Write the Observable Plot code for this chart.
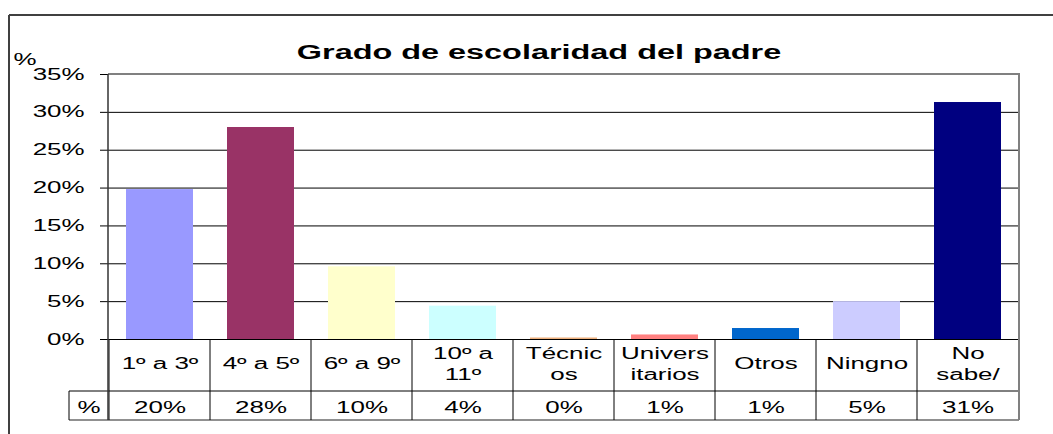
<!DOCTYPE html>
<html><head><meta charset="utf-8">
<script src="https://cdn.jsdelivr.net/npm/d3@7"></script>
<script src="https://cdn.jsdelivr.net/npm/@observablehq/plot@0.6"></script>
<style>
html,body{margin:0;padding:0;background:#fff;}
svg{display:block;}
</style></head><body>
<div id="chart"></div>
<script>
// ---- data ----
const title = "Grado de escolaridad del padre";
const yUnitLabel = "%";
const rowHeader = "%";
const categories = ["1º a 3º","4º a 5º","6º a 9º","10º a\n11º","Técnic\nos","Univers\nitarios","Otros","Ningno","No\nsabe/"];
const values = [19.8, 28.0, 9.6, 4.4, 0.2, 0.6, 1.45, 5.0, 31.3];
const tableLabels = ["20%","28%","10%","4%","0%","1%","1%","5%","31%"];
const colors = ["#9999FF","#993366","#FFFFCC","#CCFFFF","#EDB07E","#FF8080","#0066CC","#CCCCFF","#000080"];
const yTicks = [0,5,10,15,20,25,30,35];

// ---- layout ----
const W = 1053, H = 434;
const ML = 108, MR = 34, MT = 74, MB = 95;
const ROW1 = 52, ROW2 = 29, HEADW = 39;
const STRETCH = 1.62;

const data = categories.map((c, i) => ({cat: c, value: values[i], label: tableLabels[i]}));
const lines = data.flatMap(d => {
  const parts = d.cat.split("\n");
  return parts.map((t, j) => ({cat: d.cat, t, off: j - (parts.length - 1) / 2}));
});

function decor(index, scales, vals, dim) {
  const x = scales.x;
  const left = dim.marginLeft, right = dim.width - dim.marginRight;
  const top = dim.marginTop, bottom = dim.height - dim.marginBottom;
  const n = categories.length;
  const step = (typeof x.step === "function") ? x.step() : (right - left) / n;
  const bw = (typeof x.bandwidth === "function") ? x.bandwidth() : step * 0.66;
  const bounds = categories.map(c => x(c) - (step - bw) / 2);
  const g = d3.create("svg:g").attr("fill", "none");
  const line = (x1, y1, x2, y2, stroke, sw) => g.append("line")
    .attr("x1", x1).attr("y1", y1).attr("x2", x2).attr("y2", y2)
    .attr("stroke", stroke).attr("stroke-width", sw);
  // outer chart frame (top & left visible)
  line(9, 15, dim.width + 2, 15, "#404040", 2);
  line(9, 15, 9, dim.height + 2, "#404040", 2);
  // data table grid
  const r1 = bottom + ROW1, r2 = bottom + ROW1 + ROW2;
  line(left - HEADW, r1, right, r1, "#000", 1);
  line(left - HEADW, r2, right, r2, "#222", 1.2);
  line(left - HEADW, r1, left - HEADW, r2, "#000", 1);
  bounds.forEach(b => line(b, bottom, b, r2, "#000", 1));
  // plot area border (top & right, gray)
  line(left, top, right + 1, top, "#808080", 2);
  line(right, top, right, r2, "#808080", 2);
  // y axis line
  line(left, top, left, r2, "#333", 1.5);
  return g.node();
}

const textStyle = {fontFamily: "'Liberation Sans', Arial, sans-serif", fontSize: 16, fill: "#000", lineAnchor: "middle"};

const plot = Plot.plot({
  width: W, height: H,
  marginLeft: ML, marginRight: MR, marginTop: MT, marginBottom: MB,
  style: {fontFamily: "'Liberation Sans', Arial, sans-serif", fontSize: "16px", color: "#000", background: "#fff", overflow: "visible"},
  x: {domain: categories, paddingInner: 0.34, paddingOuter: 0.17, axis: null},
  y: {domain: [0, 35], ticks: yTicks, tickFormat: d => d + "%", tickSize: 8, tickPadding: 16, label: null},
  color: {domain: categories, range: colors},
  marks: [
    Plot.ruleY(yTicks.slice(1, -1), {stroke: "#000", strokeWidth: 1}),
    Plot.barY(data, {x: "cat", y: "value", fill: "cat"}),
    Plot.ruleY([0], {stroke: "#000", strokeWidth: 1.2}),
    decor,
    // title
    Plot.text([title], {frameAnchor: "top", dx: -25, dy: -22, text: d => d, ...textStyle, fontWeight: "bold", fontSize: 20}),
    // y unit label
    Plot.text([yUnitLabel], {frameAnchor: "top-left", dx: -95, dy: -15, textAnchor: "start", text: d => d, ...textStyle}),
    // table: category labels
    Plot.text(lines.filter(d => d.off === 0), {x: "cat", text: "t", frameAnchor: "bottom", dy: 24.6, ...textStyle}),
    Plot.text(lines.filter(d => d.off < 0), {x: "cat", text: "t", frameAnchor: "bottom", dy: 14.1, ...textStyle}),
    Plot.text(lines.filter(d => d.off > 0), {x: "cat", text: "t", frameAnchor: "bottom", dy: 35.6, ...textStyle}),
    // table: values row
    Plot.text(data, {x: "cat", text: "label", frameAnchor: "bottom", dy: 68, ...textStyle}),
    Plot.text([rowHeader], {frameAnchor: "bottom-left", dx: -HEADW / 2, dy: 68, textAnchor: "middle", text: d => d, ...textStyle})
  ]
});

document.getElementById("chart").append(plot);

// horizontal stretch of the text, as in the reference rendering
plot.querySelectorAll("text").forEach(el => {
  const targets = el.querySelectorAll("tspan").length ? el.querySelectorAll("tspan") : [el];
  targets.forEach(t => {
    const len = t.getComputedTextLength();
    if (len > 0) {
      t.setAttribute("textLength", (len * STRETCH).toFixed(2));
      t.setAttribute("lengthAdjust", "spacingAndGlyphs");
    }
  });
});
</script>
</body></html>
